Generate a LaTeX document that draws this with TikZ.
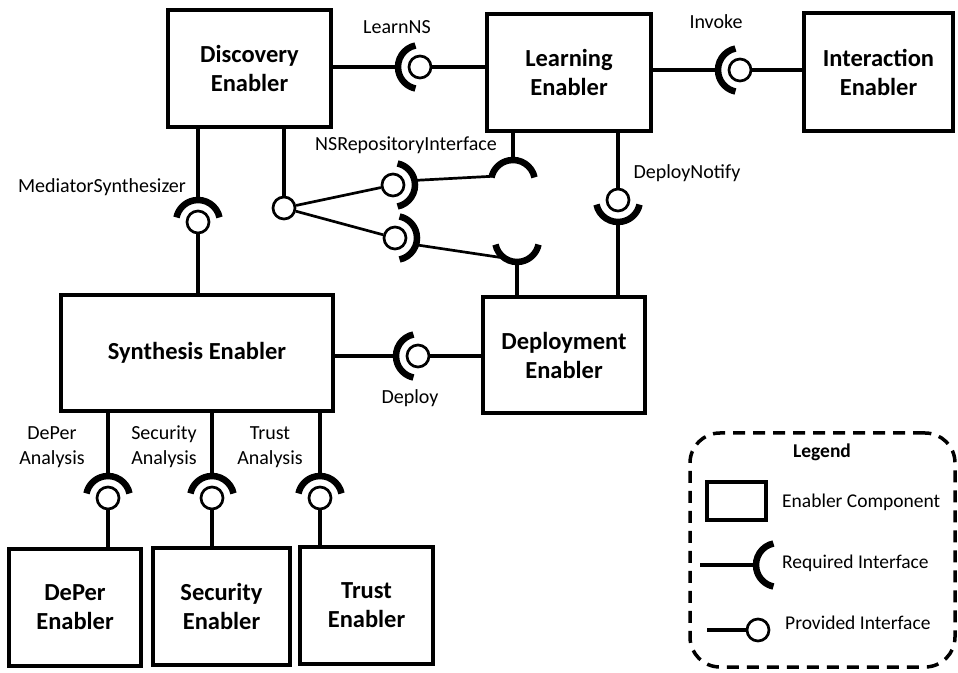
\documentclass[tikz,border=0pt]{standalone}
\usepackage{fontspec}
\setmainfont{Carlito}
\newcommand\sockarc[3]{\draw[sock] ([shift={(#2:22)}]#1) arc[start angle=#2,end angle=#3,radius=22];}
\begin{document}
\begin{tikzpicture}[x=1pt,y=1pt,
 comp/.style={draw, line width=3.8, inner sep=0, align=center, font=\bfseries\fontsize{24.5}{29}\selectfont},
 conn/.style={line width=3.8},
 thinconn/.style={line width=2.7},
 prov/.style={circle, draw, fill=white, line width=2.7, minimum size=22, inner sep=0},
 sock/.style={line width=6.5},
 lbl/.style={font=\fontsize{20}{25}\selectfont, align=center, inner sep=0},
 legtxt/.style={font=\fontsize{19.5}{25}\selectfont, anchor=west, inner sep=0}]
\useasboundingbox (0,0) rectangle (958,672);
% components
\node[comp, minimum width=163, minimum height=117] (disc) at (249.5,603.5) {Discovery\\Enabler};
\node[comp, minimum width=164, minimum height=117] (learn) at (569,599.5) {Learning\\Enabler};
\node[comp, minimum width=149, minimum height=118] (inter) at (878.5,600) {Interaction\\Enabler};
\node[comp, minimum width=272, minimum height=116] (synth) at (197,319) {Synthesis Enabler};
\node[comp, minimum width=162, minimum height=116] (deploy) at (564,317) {Deployment\\Enabler};
\node[comp, minimum width=132, minimum height=117] (deper) at (75,64.5) {DePer\\Enabler};
\node[comp, minimum width=137, minimum height=117] (secu) at (221.5,65.5) {Security\\Enabler};
\node[comp, minimum width=133, minimum height=117] (trust) at (366.5,66.5) {Trust\\Enabler};
% provided interfaces
\node[prov] (pL) at (420,605) {};
\node[prov] (pI) at (740,602) {};
\node[prov] (pM) at (198,450) {};
\node[prov] (pD) at (418,316) {};
\node[prov] (pN) at (618,472) {};
\node[prov] (pDP) at (108,174) {};
\node[prov] (pS) at (212,174) {};
\node[prov] (pT) at (320,174) {};
\node[prov] (nsD) at (284,464) {};
\node[prov] (nsU) at (393,487) {};
\node[prov] (nsL) at (395,434) {};
\coordinate (nsTR) at (513,490);
\coordinate (nsBR) at (517,432);
% connectors
\draw[conn] (disc.east |- pL) -- ([xshift=-22]pL.center);
\draw[conn] (pL) -- (learn.west |- pL);
\draw[conn] (learn.east |- pI) -- ([xshift=-22]pI.center);
\draw[conn] (pI) -- (inter.west |- pI);
\draw[conn] (disc.south -| pM) -- ([yshift=22]pM.center);
\draw[conn] (pM) -- (synth.north -| pM);
\draw[conn] (synth.east |- pD) -- ([xshift=-22]pD.center);
\draw[conn] (pD) -- (deploy.west |- pD);
\draw[conn] (learn.south -| pN) -- (pN);
\draw[conn] ([yshift=-22]pN.center) -- (deploy.north -| pN);
\foreach \p/\b in {pDP/deper, pS/secu, pT/trust}{
  \draw[conn] (synth.south -| \p) -- ([yshift=22]\p.center);
  \draw[conn] (\p) -- (\b.north -| \p);
}
\draw[conn] (disc.south -| nsD) -- (nsD);
\draw[thinconn] (nsD) -- (nsU);
\draw[thinconn] (nsD) -- (nsL);
\draw[thinconn] ([shift={(12:22)}]nsU.center) -- ([shift={(165:22)}]nsTR);
\draw[thinconn] ([shift={(-18:22)}]nsL.center) -- ([shift={(235:22)}]nsBR);
\draw[conn] (learn.south -| nsTR) -- ([yshift=22]nsTR);
\draw[conn] ([yshift=-22]nsBR) -- (deploy.north -| nsBR);
% required sockets
\sockarc{pL.center}{102}{258}
\sockarc{pI.center}{102}{258}
\sockarc{pD.center}{102}{258}
\sockarc{pM.center}{12}{168}
\sockarc{pN.center}{192}{348}
\sockarc{pDP.center}{12}{168}
\sockarc{pS.center}{12}{168}
\sockarc{pT.center}{12}{168}
\sockarc{nsU.center}{-78}{78}
\sockarc{nsL.center}{-78}{78}
\sockarc{nsTR}{12}{168}
\sockarc{nsBR}{192}{348}
% labels
\node[lbl] (tL) at (397,645) {LearnNS};
\node[lbl] (tI) at (716,650) {Invoke};
\node[lbl] (tNS) at (406,527) {NSRepositoryInterface};
\node[lbl] (tN) at (687,499) {DeployNotify};
\node[lbl] (tM) at (102,485) {MediatorSynthesizer};
\node[lbl] (tD) at (410,274) {Deploy};
\node[lbl] (tDP) at (52,225) {DePer\\Analysis};
\node[lbl] (tS) at (164,225) {Security\\Analysis};
\node[lbl] (tT) at (270,225) {Trust\\Analysis};
% legend
\node[draw, line width=3.5, dash pattern=on 12 off 8, rounded corners=30, minimum width=265, minimum height=234] (legend) at (822.5,122) {};
\node[font=\bfseries\fontsize{19.5}{25}\selectfont, inner sep=0] (legT) at (822,220) {Legend};
\node[draw, line width=3.8, minimum width=59, minimum height=38] (lgBox) at (736.5,171) {};
\node[legtxt] (lgBoxT) at (782,170) {Enabler Component};
\coordinate (lgRs) at (700,107);
\coordinate (lgR) at (778,107);
\draw[conn] (lgRs) -- ([xshift=-22]lgR);
\sockarc{lgR}{102}{258}
\node[legtxt] (lgRT) at (782,109) {Required Interface};
\coordinate (lgPs) at (707,42);
\node[prov] (lgP) at (758,42) {};
\draw[conn] (lgPs) -- (lgP);
\node[legtxt] (lgPT) at (785,49) {Provided Interface};
\end{tikzpicture}
\end{document}
